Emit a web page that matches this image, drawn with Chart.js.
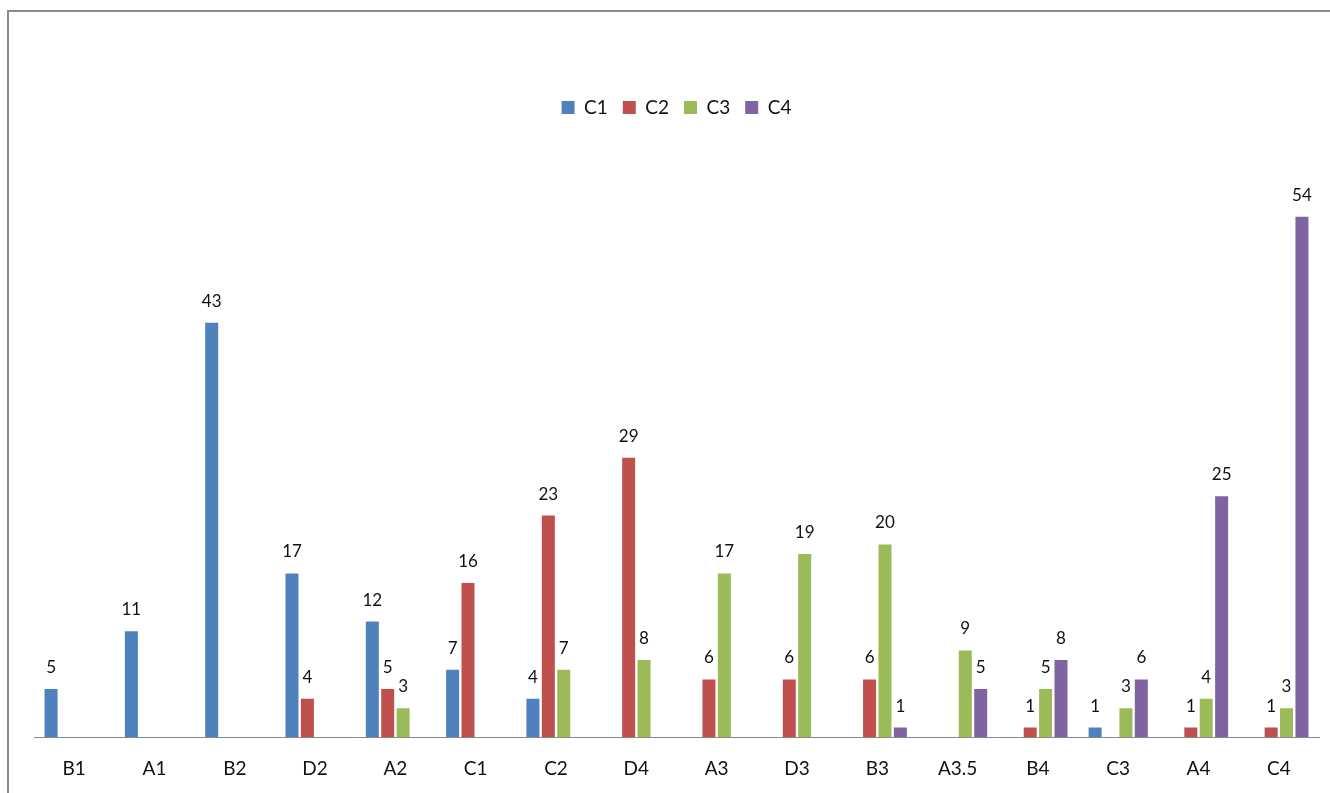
<!DOCTYPE html>
<html>
<head>
<meta charset="utf-8">
<script src="https://cdn.jsdelivr.net/npm/chart.js@4/dist/chart.umd.min.js"></script>
<style>
  html, body { margin: 0; padding: 0; background: #fff; }
  #wrap { position: relative; width: 1330px; height: 793px; overflow: hidden; }
  #frame { position: absolute; left: 7px; top: 10px; width: 1400px; height: 900px;
           border-top: 2px solid #8a8a8a; border-left: 2px solid #8a8a8a; }
  #box { position: absolute; left: 0; top: 0; width: 1330px; height: 793px; }
</style>
</head>
<body>
<div id="wrap">
  <div id="frame"></div>
  <div id="box"><canvas id="c"></canvas></div>
</div>
<script>
const categories = ['B1','A1','B2','D2','A2','C1','C2','D4','A3','D3','B3','A3.5','B4','C3','A4','C4'];
const seriesNames = ['C1','C2','C3','C4'];
const c1Values = [5, 11, 43, 17, 12, 7, 4, null, null, null, null, null, null, 1, null, null];
const c2Values = [null, null, null, 4, 5, 16, 23, 29, 6, 6, 6, null, 1, null, 1, 1];
const c3Values = [null, null, null, null, 3, null, 7, 8, 17, 19, 20, 9, 5, 3, 4, 3];
const c4Values = [null, null, null, null, null, null, null, null, null, null, 1, 5, 8, 6, 25, 54];
const colors = ['#4F81BD', '#C0504D', '#9BBB59', '#8064A2'];

const FONT = 'Lato, "Open Sans", sans-serif';

const valueLabels = {
  id: 'valueLabels',
  afterDatasetsDraw(chart) {
    const ctx = chart.ctx;
    ctx.save();
    ctx.font = '17px ' + FONT;
    ctx.fillStyle = '#111';
    ctx.textAlign = 'center';
    ctx.textBaseline = 'alphabetic';
    chart.data.datasets.forEach((ds, i) => {
      const meta = chart.getDatasetMeta(i);
      meta.data.forEach((el, j) => {
        const v = ds.data[j];
        if (v === null || v === undefined) return;
        ctx.fillText(String(v), el.x, el.y - 16);
      });
    });
    ctx.restore();
  }
};

const legendGap = {
  id: 'legendGap',
  beforeInit(chart) {
    const lg = chart.legend;
    if (!lg) return;
    const fit = lg.fit;
    lg.fit = function () { fit.call(this); this.height += 32; };
  }
};

new Chart(document.getElementById('c'), {
  type: 'bar',
  data: {
    labels: categories,
    datasets: [c1Values, c2Values, c3Values, c4Values].map((d, i) => ({
      label: seriesNames[i],
      data: d,
      backgroundColor: colors[i],
      borderWidth: 0,
      categoryPercentage: 0.767,
      barPercentage: 0.845
    }))
  },
  options: {
    responsive: true,
    maintainAspectRatio: false,
    animation: false,
    layout: { padding: { left: 34, right: 11, top: 83, bottom: -7 } },
    plugins: {
      legend: {
        position: 'top',
        align: 'center',
        labels: {
          boxWidth: 13, boxHeight: 13, padding: 15,
          color: '#111',
          font: { family: FONT, size: 19 }
        }
      },
      tooltip: { enabled: false },
      title: { display: false }
    },
    scales: {
      x: {
        grid: { display: false, drawTicks: false },
        border: { display: true, color: '#898989', width: 1 },
        ticks: { color: '#111', padding: 20, font: { family: FONT, size: 19 }, maxRotation: 0, autoSkip: false }
      },
      y: {
        display: false,
        min: 0,
        max: 60
      }
    }
  },
  plugins: [legendGap, valueLabels]
});
</script>
</body>
</html>
